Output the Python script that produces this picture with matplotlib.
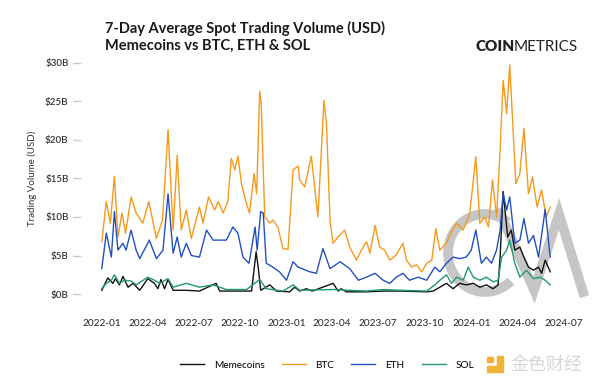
import matplotlib
matplotlib.use("Agg")
import matplotlib.pyplot as plt
import matplotlib.dates as mdates
from matplotlib.patches import Arc, Rectangle
from matplotlib.lines import Line2D
import pandas as pd

# 7-day average spot volume, $B
btc_dates = [
    "2022-01-01", "2022-01-10", "2022-01-18", "2022-01-26", "2022-02-02", "2022-02-10", "2022-02-17",
    "2022-02-28", "2022-03-10", "2022-03-23", "2022-04-04", "2022-04-19", "2022-05-01", "2022-05-12",
    "2022-05-22", "2022-05-30", "2022-06-07", "2022-06-17", "2022-06-27", "2022-07-13", "2022-07-20",
    "2022-07-31", "2022-08-12", "2022-08-19", "2022-08-29", "2022-09-07", "2022-09-14", "2022-09-21",
    "2022-09-27", "2022-10-04", "2022-10-14", "2022-10-20", "2022-10-29", "2022-11-03", "2022-11-09",
    "2022-11-12", "2022-11-19", "2022-11-29", "2022-12-05", "2022-12-15", "2022-12-25", "2023-01-04",
    "2023-01-14", "2023-01-24", "2023-01-27", "2023-02-06", "2023-02-19", "2023-03-04", "2023-03-16",
    "2023-03-21", "2023-03-28", "2023-04-03", "2023-04-13", "2023-04-26", "2023-05-06", "2023-05-19",
    "2023-05-29", "2023-06-08", "2023-06-15", "2023-06-25", "2023-07-04", "2023-07-14", "2023-07-24",
    "2023-08-06", "2023-08-19", "2023-08-26", "2023-09-05", "2023-09-15", "2023-09-25", "2023-10-05",
    "2023-10-15", "2023-10-23", "2023-10-31", "2023-11-13", "2023-11-23", "2023-12-03", "2023-12-16",
    "2023-12-29", "2024-01-10", "2024-01-18", "2024-01-28", "2024-02-04", "2024-02-12", "2024-02-20",
    "2024-02-27", "2024-03-04", "2024-03-11", "2024-03-17", "2024-03-24", "2024-03-29", "2024-04-06",
    "2024-04-14", "2024-04-23", "2024-05-01", "2024-05-10", "2024-05-19", "2024-05-28", "2024-06-05",
]
btc = [
    6.8, 12.0, 9.2, 15.3, 7.4, 10.5, 7.9,
    12.6, 10.5, 9.2, 12.0, 7.2, 9.6, 21.3,
    8.3, 18.0, 8.3, 10.9, 7.2, 11.3, 9.2,
    12.6, 10.9, 12.0, 10.5, 12.0, 17.6, 16.1,
    17.9, 14.3, 11.7, 10.5, 15.6, 13.0, 26.3,
    24.7, 10.0, 9.2, 9.6, 8.7, 5.9, 5.8,
    16.1, 16.6, 14.8, 13.9, 17.9, 10.0, 25.1,
    22.1, 9.6, 6.6, 7.4, 8.3, 6.1, 4.4,
    5.7, 6.8, 5.3, 8.9, 6.1, 5.7, 4.4,
    5.1, 6.6, 4.4, 3.5, 3.8, 2.9, 4.0,
    4.4, 8.5, 5.7, 6.6, 8.1, 9.2, 8.3,
    10.5, 17.8, 9.2, 10.0, 8.7, 14.8, 10.0,
    18.7, 27.7, 23.4, 29.7, 20.8, 14.3, 15.6,
    21.5, 13.0, 15.2, 11.3, 13.5, 10.0, 11.3,
]

eth_dates = [
    "2022-01-01", "2022-01-10", "2022-01-20", "2022-01-26", "2022-02-02", "2022-02-12", "2022-02-18",
    "2022-02-28", "2022-03-10", "2022-03-17", "2022-04-05", "2022-04-19", "2022-05-02", "2022-05-12",
    "2022-05-22", "2022-05-30", "2022-06-07", "2022-06-17", "2022-06-27", "2022-07-13", "2022-07-27",
    "2022-08-09", "2022-08-22", "2022-09-04", "2022-09-17", "2022-09-27", "2022-10-07", "2022-10-19",
    "2022-10-31", "2022-11-04", "2022-11-11", "2022-11-16", "2022-11-22", "2022-12-05", "2022-12-18",
    "2023-01-01", "2023-01-14", "2023-01-24", "2023-02-16", "2023-03-01", "2023-03-14", "2023-03-28",
    "2023-04-17", "2023-05-06", "2023-05-23", "2023-06-08", "2023-06-25", "2023-07-11", "2023-07-24",
    "2023-08-06", "2023-08-19", "2023-09-01", "2023-09-18", "2023-10-05", "2023-10-21", "2023-10-31",
    "2023-11-13", "2023-11-26", "2023-12-09", "2023-12-22", "2024-01-01", "2024-01-10", "2024-01-21",
    "2024-01-31", "2024-02-10", "2024-02-20", "2024-02-27", "2024-03-04", "2024-03-11", "2024-03-17",
    "2024-03-27", "2024-04-06", "2024-04-14", "2024-04-23", "2024-05-03", "2024-05-13", "2024-05-26",
    "2024-06-05",
]
eth = [
    3.3, 7.9, 4.8, 10.7, 5.7, 6.6, 5.7,
    8.3, 5.7, 4.6, 7.0, 4.6, 5.7, 13.0,
    5.3, 7.4, 4.8, 6.6, 5.0, 4.8, 8.3,
    7.0, 7.0, 7.0, 8.7, 7.9, 4.8, 4.0,
    8.7, 5.7, 10.7, 10.5, 4.0, 3.5, 2.9,
    1.8, 4.2, 3.5, 2.9, 2.7, 5.9, 3.3,
    4.2, 3.3, 1.8, 2.2, 2.7, 1.8, 1.4,
    2.2, 2.7, 1.8, 2.2, 1.8, 3.5, 2.9,
    4.0, 4.8, 4.6, 4.8, 5.7, 8.3, 4.0,
    4.8, 4.0, 5.7, 8.3, 13.0, 10.9, 12.6,
    6.6, 7.0, 9.8, 6.6, 7.6, 4.8, 11.0,
    4.8,
]

sol_dates = [
    "2022-01-01", "2022-01-10", "2022-01-20", "2022-01-26", "2022-02-05", "2022-02-15", "2022-02-28",
    "2022-03-10", "2022-04-02", "2022-04-15", "2022-04-25", "2022-05-12", "2022-05-22", "2022-06-17",
    "2022-07-13", "2022-08-09", "2022-09-04", "2022-10-14", "2022-11-09", "2022-11-22", "2022-12-25",
    "2023-01-14", "2023-01-27", "2023-04-03", "2023-06-08", "2023-07-11", "2023-08-14", "2023-10-05",
    "2023-10-21", "2023-10-31", "2023-11-13", "2023-11-23", "2023-12-03", "2023-12-16", "2023-12-26",
    "2024-01-05", "2024-01-18", "2024-01-31", "2024-02-13", "2024-02-23", "2024-03-01", "2024-03-11",
    "2024-03-17", "2024-03-27", "2024-04-06", "2024-04-19", "2024-05-03", "2024-05-16", "2024-05-26",
    "2024-06-05",
]
sol = [
    0.7, 1.4, 1.8, 2.5, 1.4, 1.8, 1.7,
    1.2, 2.2, 1.8, 1.4, 2.0, 0.9, 1.4,
    0.9, 1.2, 0.6, 0.6, 1.9, 0.7, 0.4,
    1.2, 0.5, 0.6, 0.4, 0.6, 0.5, 0.4,
    1.2, 1.8, 2.5, 1.4, 2.2, 1.8, 3.5,
    2.2, 1.8, 2.2, 1.6, 1.8, 4.8, 5.7,
    7.0, 4.0, 2.2, 3.1, 2.0, 2.2, 1.8,
    1.2,
]

meme_dates = [
    "2022-01-01", "2022-01-13", "2022-01-23", "2022-01-28", "2022-02-05", "2022-02-12", "2022-02-22",
    "2022-03-04", "2022-03-17", "2022-04-02", "2022-04-15", "2022-04-22", "2022-04-28", "2022-05-05",
    "2022-05-12", "2022-05-22", "2022-06-17", "2022-07-13", "2022-08-15", "2022-08-22", "2022-09-17",
    "2022-10-24", "2022-11-02", "2022-11-06", "2022-11-11", "2022-11-29", "2022-12-12", "2023-01-07",
    "2023-01-17", "2023-01-27", "2023-02-09", "2023-02-21", "2023-04-03", "2023-04-13", "2023-04-19",
    "2023-04-29", "2023-06-08", "2023-07-11", "2023-08-14", "2023-10-05", "2023-10-18", "2023-10-31",
    "2023-11-13", "2023-11-26", "2023-12-09", "2023-12-22", "2024-01-05", "2024-01-18", "2024-01-31",
    "2024-02-13", "2024-02-23", "2024-02-27", "2024-03-04", "2024-03-09", "2024-03-13", "2024-03-20",
    "2024-03-27", "2024-04-06", "2024-04-14", "2024-04-23", "2024-05-03", "2024-05-13", "2024-05-19",
    "2024-05-26", "2024-06-05",
]
meme = [
    0.5, 2.1, 1.4, 2.0, 1.2, 2.3, 0.9,
    1.4, 0.5, 2.0, 1.4, 0.7, 1.9, 0.7,
    1.9, 0.5, 0.5, 0.4, 1.4, 0.4, 0.4,
    0.4, 5.5, 3.5, 0.5, 1.2, 0.4, 0.3,
    0.9, 0.4, 0.7, 0.4, 1.4, 0.4, 0.7,
    0.3, 0.3, 0.4, 0.4, 0.3, 0.4, 0.9,
    1.4, 0.7, 1.4, 1.2, 1.4, 0.9, 1.2,
    0.7, 1.2, 4.8, 13.3, 10.0, 7.4, 8.3,
    5.7, 6.1, 4.8, 3.5, 3.1, 3.5, 2.7,
    4.4, 2.9,
]

series = [
    ("Memecoins", meme_dates, meme, "#111111"),
    ("BTC", btc_dates, btc, "#f59a1b"),
    ("ETH", eth_dates, eth, "#2350bf"),
    ("SOL", sol_dates, sol, "#1f9a6c"),
]
y_ticks = [0, 5, 10, 15, 20, 25, 30]
x_ticks = ["2022-01", "2022-04", "2022-07", "2022-10", "2023-01", "2023-04",
           "2023-07", "2023-10", "2024-01", "2024-04", "2024-07"]

plt.rcParams["font.family"] = ["Lato", "DejaVu Sans"]

fig = plt.figure(figsize=(6, 3.77), dpi=100)
ax = fig.add_axes([81 / 600, 1 - 298 / 377, (573 - 81) / 600, (298 - 58) / 377])

# coin metrics watermark (behind the lines)
wm = "#c6c6c6"
ax.add_patch(Arc((485 / 600, 1 - 253 / 377), 74 / 600, 78 / 377, theta1=65, theta2=300,
                 lw=7, color=wm, transform=fig.transFigure, clip_on=False, zorder=0.5))
ax.add_line(Line2D([500 / 600, 534 / 600, 559 / 600, 583 / 600],
                   [1 - 213 / 377, 1 - 290 / 377, 1 - 214 / 377, 1 - 292 / 377],
                   lw=7, color=wm, transform=fig.transFigure, clip_on=False, zorder=0.5,
                   solid_joinstyle="miter"))

for name, dates, vals, color in series:
    ax.plot(pd.to_datetime(dates), vals, color=color, lw=1.0, label=name, zorder=2)

ax.set_xlim(pd.Timestamp("2021-11-21"), pd.Timestamp("2024-07-20"))
ax.set_ylim(-0.5, 30.6)
ax.set_yticks(y_ticks)
ax.set_yticklabels([f"${v}B" for v in y_ticks])
ax.set_xticks(pd.to_datetime(x_ticks))
ax.xaxis.set_major_formatter(mdates.DateFormatter("%Y-%m"))
for s in ax.spines.values():
    s.set_visible(False)
ax.tick_params(axis="y", length=6, width=1, color="#c8c8c8", pad=3, labelsize=7,
               labelcolor="#333333")
ax.tick_params(axis="x", length=0, pad=15, labelsize=7.2, labelcolor="#222222")
for lbl in ax.get_yticklabels():
    lbl.set_fontweight("semibold")
ax.set_ylabel("Trading Volume (USD)", fontsize=7, color="#333333", labelpad=6)

fig.text(105 / 600, 1 - 33 / 377, "7-Day Average Spot Trading Volume (USD)", fontsize=10.5,
         fontweight="bold", color="#1a1a1a", va="baseline")
fig.text(105 / 600, 1 - 50 / 377, "Memecoins vs BTC, ETH & SOL", fontsize=10.5,
         fontweight="bold", color="#1a1a1a", va="baseline")
fig.text(476 / 600, 1 - 51 / 377, "COIN", fontsize=11, fontweight="heavy",
         color="#222222", va="baseline")
fig.text(514 / 600, 1 - 51 / 377, "METRICS", fontsize=11, fontweight="normal",
         color="#222222", va="baseline")

handles = [Line2D([], [], color=c, lw=1.0) for _, _, _, c in series]
fig.legend(handles, [n for n, _, _, _ in series], loc="center", bbox_to_anchor=(327 / 600, 1 - 365 / 377),
           ncol=4, frameon=False, fontsize=7.2, handlelength=2.4, columnspacing=1.7, handletextpad=1.0)

# source watermark bottom-right
fig.add_artist(Rectangle((487 / 600, 1 - 372 / 377), 9 / 600, 6 / 377, color="#f2b233",
                         transform=fig.transFigure))
fig.add_artist(Rectangle((497 / 600, 1 - 372 / 377), 6 / 600, 16 / 377, color="#f2b233",
                         transform=fig.transFigure))
fig.add_artist(Rectangle((487 / 600, 1 - 362 / 377), 6 / 600, 5 / 377, color="#f2b233",
                         transform=fig.transFigure))
fig.text(510 / 600, 1 - 365 / 377, "金色财经", fontsize=13, color="#d6d6d6", va="center",
         family=["Noto Sans CJK SC", "DejaVu Sans"])

fig.savefig("out.png", dpi=100)
